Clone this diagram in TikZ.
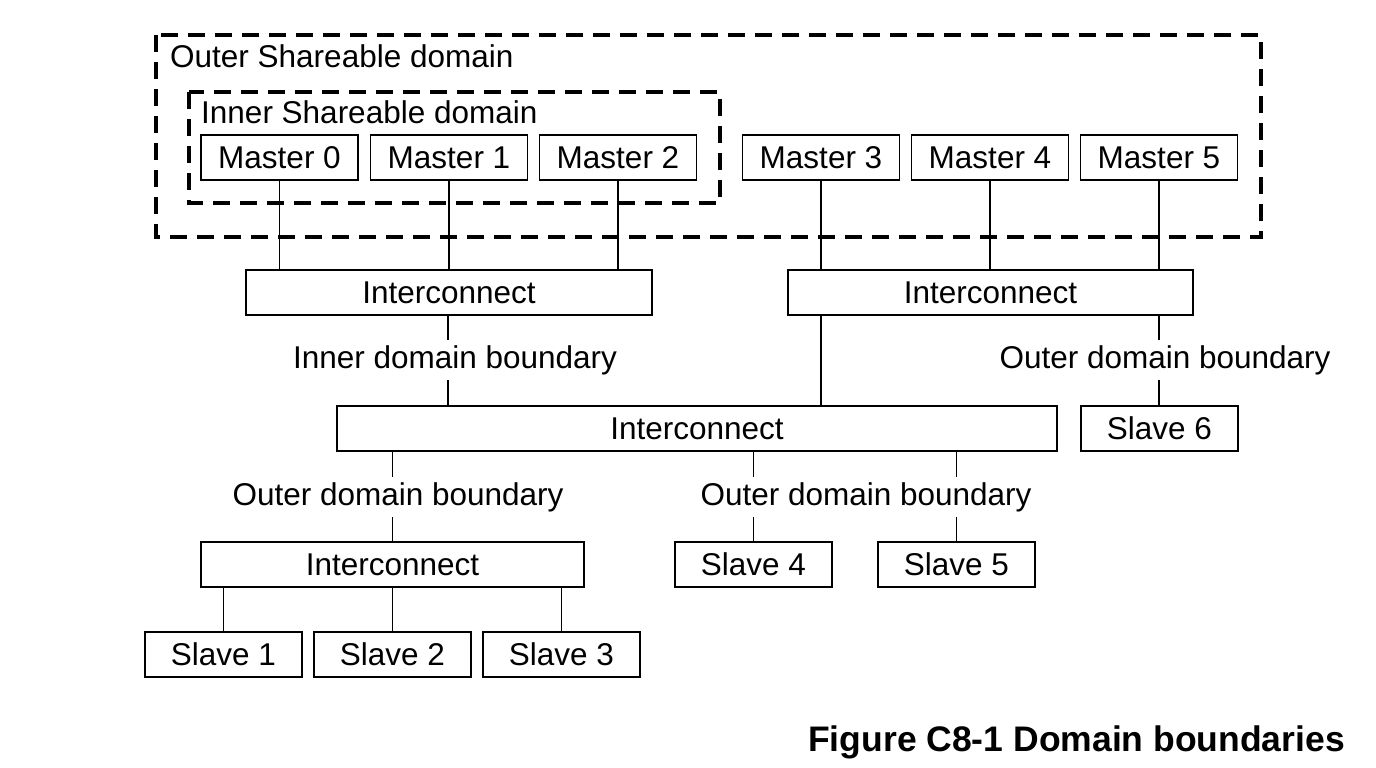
\documentclass[tikz,border=0pt]{standalone}
\usepackage{fontspec}
\setmainfont{Liberation Sans}
\begin{document}
\begin{tikzpicture}[x=1pt,y=-1pt,
  box/.style={draw,line width=1.6pt,minimum height=45pt,inner sep=0pt,font=\fontsize{31.5}{36}\selectfont},
  mbox/.style={box,minimum width=157pt},
  lbl/.style={inner sep=0pt,minimum height=40pt,font=\fontsize{31.5}{36}\selectfont},
  dom/.style={draw,line width=3.5pt,dash pattern=on 17pt off 10pt},
  wire/.style={line width=1.5pt}]
\useasboundingbox (0,0) rectangle (1376,768);
\fill[white] (0,0) rectangle (1376,768);
% domains
\draw[dom] (156,35) rectangle (1261,237);
\node[anchor=west,inner sep=0pt,font=\fontsize{31.5}{36}\selectfont] (outerlbl) at (170,56) {Outer Shareable domain};
\draw[dom] (189,92) rectangle (720,203);
\node[anchor=west,inner sep=0pt,font=\fontsize{31.5}{36}\selectfont] (innerlbl) at (201,112) {Inner Shareable domain};
% masters
\node[mbox] (m0) at (279.5,157.5) {Master 0};
\node[mbox] (m1) at (449,157.5) {Master 1};
\node[mbox] (m2) at (618,157.5) {Master 2};
\node[mbox] (m3) at (821,157.5) {Master 3};
\node[mbox] (m4) at (990,157.5) {Master 4};
\node[mbox] (m5) at (1159,157.5) {Master 5};
% interconnects
\node[box,minimum width=406pt] (i1) at (449,292.5) {Interconnect};
\node[box,minimum width=405pt] (i2) at (990.5,292.5) {Interconnect};
\node[box,minimum width=720pt] (i3) at (697,428.5) {Interconnect};
\node[box,minimum width=383pt] (i4) at (392.5,564.5) {Interconnect};
% slaves
\node[mbox] (s6) at (1159.5,428.5) {Slave 6};
\node[mbox] (s4) at (753.5,564.5) {Slave 4};
\node[mbox] (s5) at (956.5,564.5) {Slave 5};
\node[mbox] (s1) at (223.5,654.5) {Slave 1};
\node[mbox] (s2) at (392.5,654.5) {Slave 2};
\node[mbox] (s3) at (561.5,654.5) {Slave 3};
% labels
\node[lbl] (l1) at (455,360) {Inner domain boundary};
\node[lbl] (l2) at (1165,360) {Outer domain boundary};
\node[lbl] (l3) at (398,497) {Outer domain boundary};
\node[lbl] (l4) at (866,497) {Outer domain boundary};
% connectors masters -> interconnects
\foreach \m in {m0,m1,m2} \draw[wire] (\m.south) -- (\m.south |- i1.north);
\foreach \m in {m3,m4,m5} \draw[wire] (\m.south) -- (\m.south |- i2.north);
% i1 -> i3 via label
\coordinate (c1) at (448,0);
\draw[wire] (c1 |- i1.south) -- (c1 |- l1.north);
\draw[wire] (c1 |- l1.south) -- (c1 |- i3.north);
% i2 -> i3 direct
\draw[wire] (m3.south |- i2.south) -- (m3.south |- i3.north);
% i2 -> slave 6
\draw[wire] (m5.south |- i2.south) -- (m5.south |- l2.north);
\draw[wire] (m5.south |- l2.south) -- (m5.south |- s6.north);
% i3 -> i4
\draw[wire] (i4.north |- i3.south) -- (i4.north |- l3.north);
\draw[wire] (i4.north |- l3.south) -- (i4.north);
% i3 -> slave 4,5
\draw[wire] (s4.north |- i3.south) -- (s4.north |- l4.north);
\draw[wire] (s4.north |- l4.south) -- (s4.north);
\draw[wire] (s5.north |- i3.south) -- (s5.north |- l4.north);
\draw[wire] (s5.north |- l4.south) -- (s5.north);
% i4 -> slaves 1..3
\foreach \s in {s1,s2,s3} \draw[wire] (\s.north |- i4.south) -- (\s.north);
% caption
\node[anchor=east,inner sep=0pt,font=\fontsize{35.5}{40}\selectfont\bfseries] (cap) at (1345,742) {Figure C8-1 Domain boundaries};
\end{tikzpicture}
\end{document}
